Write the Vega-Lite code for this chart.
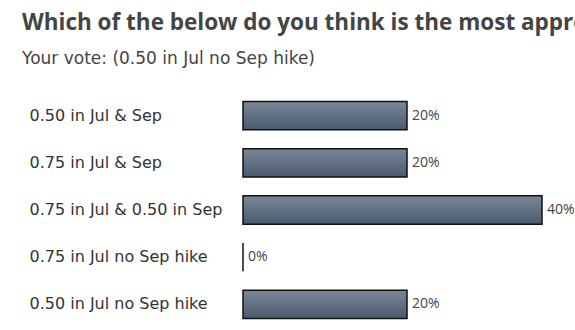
{
  "$schema": "https://vega.github.io/schema/vega-lite/v6.json",
  "width": 332,
  "height": 236,
  "autosize": {"type": "none"},
  "padding": {"left": 243, "top": 92, "right": 0, "bottom": 2},
  "background": "white",
  "view": {"stroke": null},
  "title": {
    "text": "Which of the below do you think is the most appropriate path?",
    "subtitle": "Your vote: (0.50 in Jul no Sep hike)",
    "anchor": "start",
    "frame": "group",
    "dx": -221,
    "font": "Open Sans",
    "fontSize": 22.5,
    "fontWeight": "bold",
    "color": "#444444",
    "subtitleFont": "DejaVu Sans",
    "subtitleFontSize": 17,
    "subtitleColor": "#444444",
    "subtitlePadding": 17,
    "offset": 25
  },
  "data": {
    "values": [
      {"option": "0.50 in Jul & Sep", "share": 0.2},
      {"option": "0.75 in Jul & Sep", "share": 0.2},
      {"option": "0.75 in Jul & 0.50 in Sep", "share": 0.4},
      {"option": "0.75 in Jul no Sep hike", "share": 0.0},
      {"option": "0.50 in Jul no Sep hike", "share": 0.2}
    ]
  },
  "encoding": {
    "y": {
      "field": "option",
      "type": "nominal",
      "sort": null,
      "scale": {"paddingInner": 0.4, "paddingOuter": 0.2},
      "axis": {
        "title": null,
        "ticks": false,
        "domain": false,
        "labelAlign": "left",
        "labelPadding": 214,
        "labelFont": "DejaVu Sans",
        "labelFontSize": 16,
        "labelColor": "#333333",
        "labelLimit": 250
      }
    }
  },
  "layer": [
    {
      "mark": {
        "type": "bar",
        "fill": {
          "gradient": "linear",
          "x1": 0, "y1": 0, "x2": 0, "y2": 1,
          "stops": [
            {"offset": 0, "color": "#7b8797"},
            {"offset": 1, "color": "#4a5a6f"}
          ]
        },
        "stroke": "#111111",
        "strokeWidth": 1.5
      },
      "encoding": {
        "x": {
          "field": "share",
          "type": "quantitative",
          "scale": {"domain": [0, 0.2, 0.4], "range": [0, 164, 299]},
          "axis": null
        }
      }
    },
    {
      "mark": {
        "type": "text",
        "align": "left",
        "dx": 5,
        "font": "Open Sans",
        "fontSize": 14,
        "color": "#444444"
      },
      "encoding": {
        "x": {"field": "share", "type": "quantitative"},
        "text": {"field": "share", "format": ".0%"}
      }
    }
  ]
}
